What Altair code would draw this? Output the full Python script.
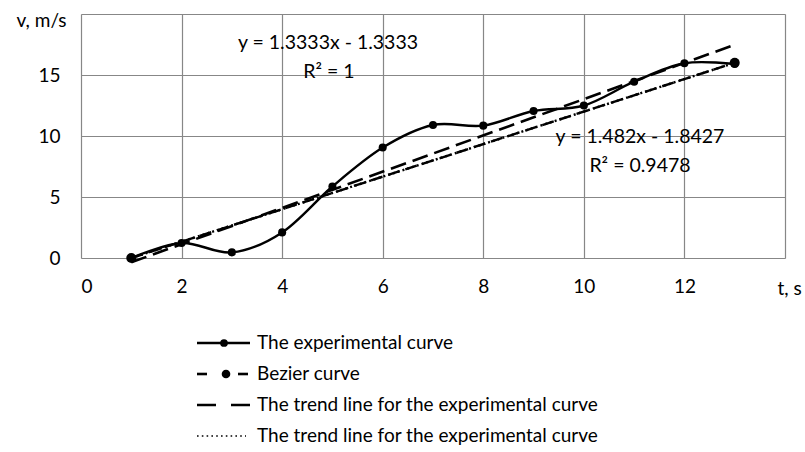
import altair as alt
import pandas as pd

# Experimental data
exp_t = [1, 2, 3, 4, 5, 6, 7, 8, 9, 10, 11, 12, 13]
exp_v = [0, 1.23, 0.46, 2.1, 5.86, 9.05, 10.9, 10.85, 12.05, 12.5, 14.45, 15.96, 15.9]
# Bezier curve end points
bez_t = [1, 13]
bez_v = [0, 16]

x_ticks = [0, 2, 4, 6, 8, 10, 12, 14]
y_ticks = [0, 5, 10, 15, 20]

legend_labels = [
    "The experimental curve",
    "Bezier curve",
    "The trend line for the experimental curve",
    "The trend line for the experimental curve",
]
eq1 = ["y = 1.3333x - 1.3333", "R\u00b2 = 1"]
eq2 = ["y = 1.482x - 1.8427", "R\u00b2 = 0.9478"]

FONT = "Lato"
FS = 19
GRID = "#878787"

exp_df = pd.DataFrame({"t": exp_t, "v": exp_v})
bez_df = pd.DataFrame({"t": bez_t, "v": bez_v})
one = pd.DataFrame({"a": [0]})

xs = alt.Scale(domain=[0, 14], nice=False, zero=False)
ys = alt.Scale(domain=[0, 20], nice=False)

xax = alt.Axis(values=x_ticks, grid=True, gridColor=GRID, gridWidth=1.2, domain=False, ticks=False,
               labelExpr="datum.value == 14 ? '' : datum.label", labelFont=FONT, labelFontSize=FS,
               labelColor="black", labelPadding=19, title="t, s", titleFont=FONT, titleFontSize=FS,
               titleFontWeight="normal", titleColor="black", titleX=708, titleY=30,
               titleAlign="center", titleBaseline="middle")
yax = alt.Axis(values=y_ticks, grid=True, gridColor=GRID, gridWidth=1.2, domain=False, ticks=False,
               labelExpr="datum.value == 20 ? '' : datum.label", labelFont=FONT, labelFontSize=FS,
               labelColor="black", labelPadding=21, title="v, m/s", titleFont=FONT, titleFontSize=FS,
               titleFontWeight="normal", titleColor="black", titleAngle=0, titleX=-40, titleY=6,
               titleAlign="center", titleBaseline="middle")

base_exp = alt.Chart(exp_df)

grid_layer = base_exp.mark_point(opacity=0).encode(
    x=alt.X("t:Q", scale=xs, axis=xax),
    y=alt.Y("v:Q", scale=ys, axis=yax),
)

trend_exp = base_exp.transform_regression("t", "v", method="linear").mark_line(
    color="black", strokeWidth=2.6, strokeDash=[16, 7]
).encode(x=alt.X("t:Q", scale=xs), y=alt.Y("v:Q", scale=ys))

bez_line = alt.Chart(bez_df).mark_line(color="black", strokeWidth=2.4, strokeDash=[12, 6]).encode(
    x=alt.X("t:Q", scale=xs), y=alt.Y("v:Q", scale=ys))
bez_trend = alt.Chart(bez_df).transform_regression("t", "v", method="linear").mark_line(
    color="black", strokeWidth=2.4, strokeDash=[2, 3]
).encode(x=alt.X("t:Q", scale=xs), y=alt.Y("v:Q", scale=ys))
bez_pts = alt.Chart(bez_df).mark_point(filled=True, color="black", size=100, opacity=1).encode(
    x=alt.X("t:Q", scale=xs), y=alt.Y("v:Q", scale=ys))

exp_line = base_exp.mark_line(color="black", strokeWidth=2.4, interpolate="cardinal").encode(
    x=alt.X("t:Q", scale=xs), y=alt.Y("v:Q", scale=ys))
exp_pts = base_exp.mark_point(filled=True, color="black", size=65, opacity=1).encode(
    x=alt.X("t:Q", scale=xs), y=alt.Y("v:Q", scale=ys))

def txt(s, x, y, align="center", size=FS):
    return alt.Chart(one).mark_text(font=FONT, fontSize=size, color="black", align=align,
                                    baseline="middle").encode(
        x=alt.value(x), y=alt.value(y), text=alt.value(s))

labels = [
    txt(eq1[0], 247, 29, size=19.5), txt(eq1[1], 248, 58, size=19.5),
    txt(eq2[0], 559, 123, size=19.5), txt(eq2[1], 559, 152, size=19.5),
]

# legend
LX0, LX1, TX = 116, 169, 176
rows = [329, 360, 391, 422]
leg = []
r = one
leg.append(alt.Chart(r).mark_rule(color="black", strokeWidth=2.6).encode(
    x=alt.value(LX0), x2=alt.value(LX1), y=alt.value(rows[0])))
leg.append(alt.Chart(r).mark_point(filled=True, color="black", size=60, opacity=1).encode(
    x=alt.value(143), y=alt.value(rows[0])))
leg.append(alt.Chart(r).mark_rule(color="black", strokeWidth=2.6).encode(
    x=alt.value(LX0), x2=alt.value(126), y=alt.value(rows[1])))
leg.append(alt.Chart(r).mark_rule(color="black", strokeWidth=2.6).encode(
    x=alt.value(157), x2=alt.value(LX1 - 2), y=alt.value(rows[1])))
leg.append(alt.Chart(r).mark_point(filled=True, color="black", size=75, opacity=1).encode(
    x=alt.value(145), y=alt.value(rows[1])))
leg.append(alt.Chart(r).mark_rule(color="black", strokeWidth=2.6, strokeDash=[19, 15]).encode(
    x=alt.value(LX0), x2=alt.value(LX1), y=alt.value(rows[2])))
leg.append(alt.Chart(r).mark_rule(color="black", strokeWidth=1.6, strokeDash=[1.6, 3.2]).encode(
    x=alt.value(LX0), x2=alt.value(LX1 - 4), y=alt.value(rows[3])))
for i, s in enumerate(legend_labels):
    leg.append(txt(s, TX, rows[i], align="left", size=19))

chart = alt.layer(grid_layer, trend_exp, bez_line, bez_trend, bez_pts, exp_line, exp_pts,
                  *labels, *leg).properties(
    width=704, height=244,
    autosize=alt.AutoSizeParams(type="none"),
    padding={"left": 81, "top": 14, "right": 20, "bottom": 194},
).configure_view(stroke=None).configure(background="white")

chart.save("out.html", embed_options={"renderer": "svg", "actions": False})
